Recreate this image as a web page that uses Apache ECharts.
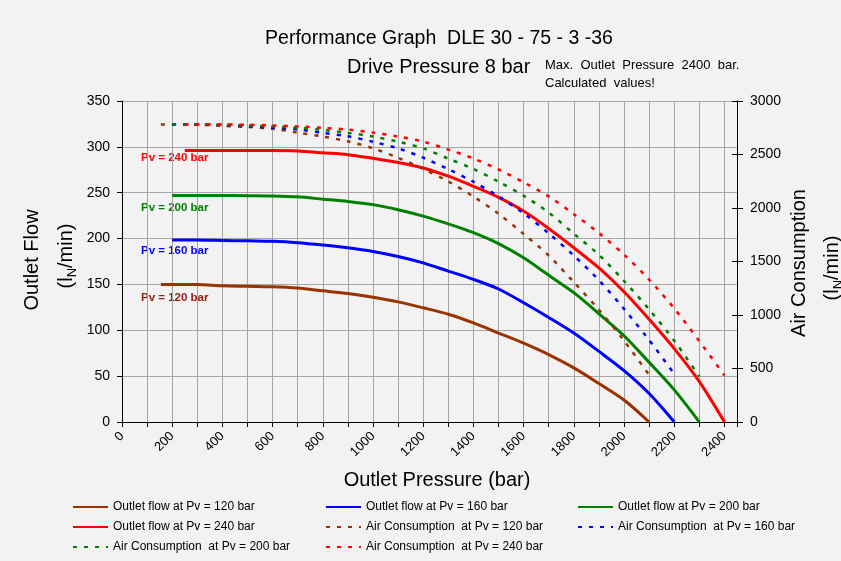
<!DOCTYPE html>
<html>
<head>
<meta charset="utf-8">
<script src="https://cdn.jsdelivr.net/npm/echarts@6/dist/echarts.min.js"></script>
<style>
html,body{margin:0;padding:0;background:#f2f2f2;}
#c{width:841px;height:561px;}
</style>
</head>
<body>
<div id="c"></div>
<script>
// ---- data (outlet pressure in bar) ----
const p120 = [155,300,400,500,600,700,800,900,1000,1100,1200,1300,1400,1500,1600,1700,1800,1900,2000,2100];
const flow120 = [150,150,148.5,148,147.5,146,143,140,136,131,124.5,117.5,108,97,86,73.5,59,42,24,0];
const air120 = [2780,2778,2768,2757,2740,2705,2668,2623,2558,2470,2365,2248,2107,1946,1757,1556,1307,1048,760,440];

const p160 = [200,300,400,500,600,700,800,900,1000,1100,1200,1300,1400,1500,1600,1700,1800,1900,2000,2100,2200];
const flow160 = [198.5,198.5,198,197.5,197,195.5,193,190,186,180.5,173.5,164.5,155.5,145,130,114,97,77,56,31,0];
const air160 = [2780,2780,2775,2765,2750,2735,2702,2670,2619,2557,2470,2362,2245,2109,1950,1763,1555,1325,1057,765,450];

const p200 = [200,300,400,500,600,700,800,900,1000,1100,1200,1300,1400,1500,1600,1700,1800,1900,2000,2100,2200,2300];
const flow200 = [247,247,247,246.8,246.5,245.5,243,240.5,237,231.5,224.5,216,206.5,194.5,179,160,141,118,94,65,35,0];
const air200 = [2780,2780,2778,2772,2762,2750,2730,2702,2668,2620,2557,2461,2365,2246,2114,1958,1760,1562,1318,1052,760,425];

const p240 = [250,300,400,500,600,700,800,900,1000,1100,1200,1300,1400,1500,1600,1700,1800,1900,2000,2100,2200,2300,2400];
const flow240 = [296,296,296,296,296,295.5,293.5,291.5,287.5,283,277,268,257,245,230,211,190,168,142,112,80,44,0];
const air240 = [2780,2780,2780,2778,2772,2762,2749,2733,2705,2668,2620,2546,2463,2360,2240,2109,1942,1766,1565,1330,1062,755,435];

const xTickLabels = [0,200,400,600,800,1000,1200,1400,1600,1800,2000,2200,2400];

const FONT = '"Liberation Sans", Arial, sans-serif';
const C120 = '#993300', C160 = '#0000ff', C200 = '#008000', C240 = '#ff0000';

function zip(xs, ys){ return xs.map((x,i)=>[x, ys[i]]); }
function flowSeries(name, xs, ys, color){
  return {name, type:'line', xAxisIndex:0, yAxisIndex:0, data: zip(xs,ys), symbol:'none',
    smooth:0.3, lineStyle:{color, width:3}, itemStyle:{color}};
}
function airSeries(name, xs, ys, color){
  return {name, type:'line', xAxisIndex:0, yAxisIndex:1, data: zip(xs,ys), symbol:'none',
    smooth:0.3, lineStyle:{color, width:2.5, type:[4,7]}, itemStyle:{color}};
}

const N = {
  f120:'Outlet flow at Pv = 120 bar', f160:'Outlet flow at Pv = 160 bar',
  f200:'Outlet flow at Pv = 200 bar', f240:'Outlet flow at Pv = 240 bar',
  a120:'Air Consumption  at Pv = 120 bar', a160:'Air Consumption  at Pv = 160 bar',
  a200:'Air Consumption  at Pv = 200 bar', a240:'Air Consumption  at Pv = 240 bar'
};

const legendBase = {orient:'vertical', top:501, padding:0, itemWidth:35, itemHeight:12, itemGap:8,
  itemStyle:{opacity:0},
  textStyle:{fontSize:12, color:'#000', fontFamily:FONT}, selectedMode:false};

const unitRich = {
  a:{fontSize:20, lineHeight:26, fontFamily:FONT, fill:'#000'},
  s:{fontSize:13, lineHeight:14, verticalAlign:'bottom', fontFamily:FONT, fill:'#000'}
};

const chart = echarts.init(document.getElementById('c'), null, {renderer:'canvas'});
chart.setOption({
  backgroundColor:'#f2f2f2',
  animation:false,
  textStyle:{fontFamily:FONT},
  grid:{left:122, right:104, top:101, bottom:139, containLabel:false},
  xAxis:[{
    type:'value', min:0, max:2450, interval:100,
    axisLine:{show:true, onZero:false, lineStyle:{color:'#000', width:1}},
    axisTick:{show:true, length:5, lineStyle:{color:'#000'}},
    axisLabel:{rotate:45, margin:12, fontSize:13, color:'#000', fontFamily:FONT,
      formatter:(v)=> xTickLabels.includes(v) ? String(v) : ''},
    splitLine:{show:true, lineStyle:{color:'#a6a6a6', width:1}}
  }],
  yAxis:[{
    type:'value', min:0, max:350, interval:50, position:'left',
    axisLine:{show:true, lineStyle:{color:'#000'}},
    axisTick:{show:true, length:5, lineStyle:{color:'#000'}},
    axisLabel:{margin:12, fontSize:14, color:'#000', fontFamily:FONT},
    splitLine:{show:true, lineStyle:{color:'#a6a6a6', width:1}}
  },{
    type:'value', min:0, max:3000, interval:500, position:'right',
    axisLine:{show:true, lineStyle:{color:'#000'}},
    axisTick:{show:true, length:6, lineStyle:{color:'#000'}},
    axisLabel:{margin:13, fontSize:14, color:'#000', fontFamily:FONT, formatter:(v)=>String(v)},
    splitLine:{show:false}
  },{
    type:'value', min:0, max:3000, interval:500, position:'right',
    axisLine:{show:false},
    axisTick:{show:true, inside:true, length:5, lineStyle:{color:'#000'}},
    axisLabel:{show:false},
    splitLine:{show:false}
  }],
  legend:[
    Object.assign({}, legendBase, {left:72, data:[N.f120, N.f240, N.a200]}),
    Object.assign({}, legendBase, {left:325, data:[N.f160, N.a120, N.a240]}),
    Object.assign({}, legendBase, {left:577, data:[N.f200, N.a160]})
  ],
  series:[
    flowSeries(N.f120, p120, flow120, C120),
    flowSeries(N.f160, p160, flow160, C160),
    flowSeries(N.f200, p200, flow200, C200),
    flowSeries(N.f240, p240, flow240, C240),
    airSeries(N.a120, p120, air120, C120),
    airSeries(N.a160, p160, air160, C160),
    airSeries(N.a200, p200, air200, C200),
    airSeries(N.a240, p240, air240, C240)
  ],
  graphic:[
    {type:'text', x:439, y:39, style:{text:'Performance Graph  DLE 30 - 75 - 3 -36', font:'19.5px '+FONT, fill:'#000', align:'center', verticalAlign:'middle'}},
    {type:'text', x:347, y:67, style:{text:'Drive Pressure 8 bar', font:'20px '+FONT, fill:'#000', verticalAlign:'middle'}},
    {type:'text', x:545, y:65, style:{text:'Max.  Outlet  Pressure  2400  bar.', font:'13px '+FONT, fill:'#000', verticalAlign:'middle'}},
    {type:'text', x:545, y:83, style:{text:'Calculated  values!', font:'13px '+FONT, fill:'#000', verticalAlign:'middle'}},
    {type:'text', x:437, y:480, style:{text:'Outlet Pressure (bar)', font:'20px '+FONT, fill:'#000', align:'center', verticalAlign:'middle'}},
    {type:'text', x:32, y:260, rotation:Math.PI/2, style:{text:'Outlet Flow', font:'20px '+FONT, fill:'#000', align:'center', verticalAlign:'middle'}},
    {type:'text', x:66, y:256, rotation:Math.PI/2, style:{text:'{a|(l}{s|N}{a|/min)}', align:'center', verticalAlign:'middle', fill:'#000', rich:unitRich}},
    {type:'text', x:799, y:263, rotation:Math.PI/2, style:{text:'Air Consumption', font:'20px '+FONT, fill:'#000', align:'center', verticalAlign:'middle'}},
    {type:'text', x:832, y:268, rotation:Math.PI/2, style:{text:'{a|(l}{s|N}{a|/min)}', align:'center', verticalAlign:'middle', fill:'#000', rich:unitRich}},
    {type:'text', x:141, y:158, style:{text:'Pv = 240 bar', font:'bold 11.5px '+FONT, fill:C240, verticalAlign:'middle'}},
    {type:'text', x:141, y:208, style:{text:'Pv = 200 bar', font:'bold 11.5px '+FONT, fill:C200, verticalAlign:'middle'}},
    {type:'text', x:141, y:251, style:{text:'Pv = 160 bar', font:'bold 11.5px '+FONT, fill:C160, verticalAlign:'middle'}},
    {type:'text', x:141, y:298, style:{text:'Pv = 120 bar', font:'bold 11.5px '+FONT, fill:'#9a1a10', verticalAlign:'middle'}}
  ]
});
</script>
</body>
</html>
